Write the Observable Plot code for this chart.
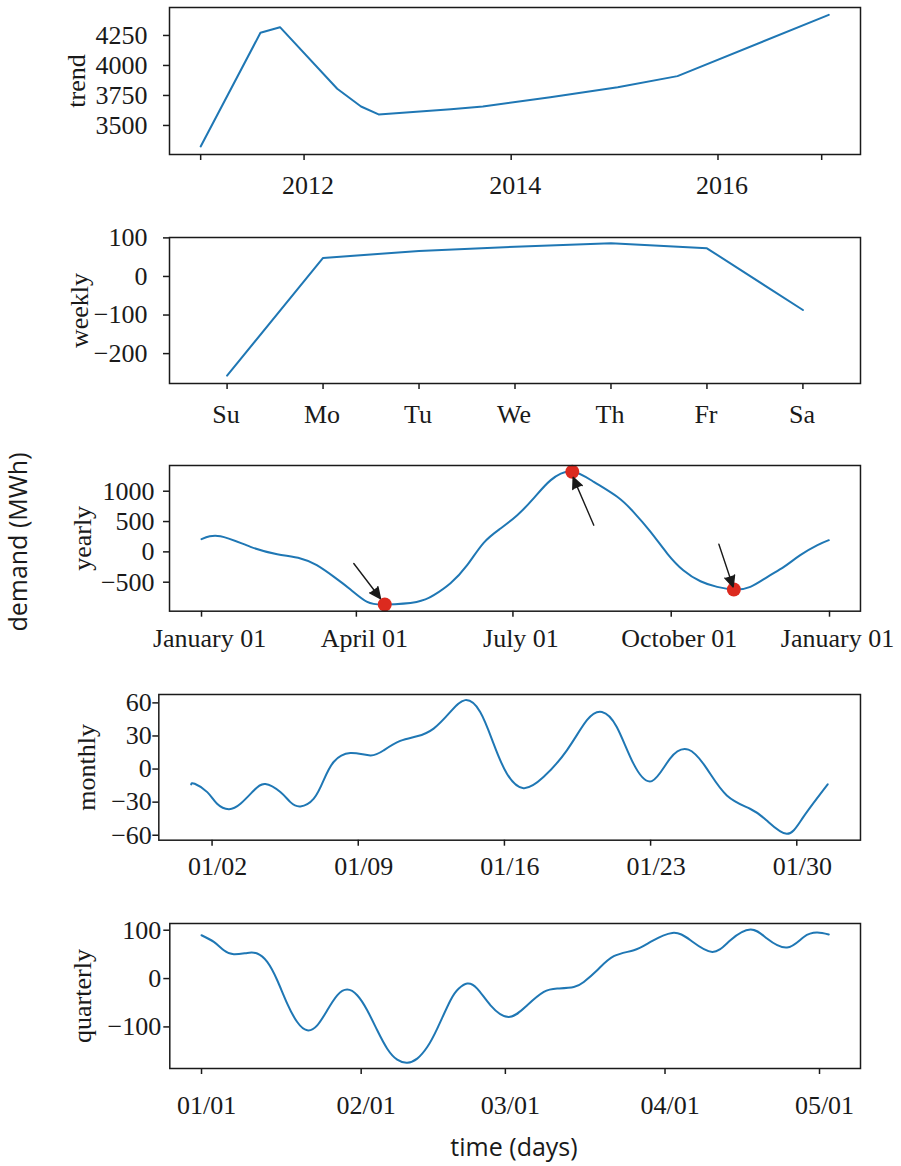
<!DOCTYPE html>
<html>
<head>
<meta charset="utf-8">
<script src="https://cdn.jsdelivr.net/npm/d3@7"></script>
<script src="https://cdn.jsdelivr.net/npm/@observablehq/plot@0.6"></script>
<style>
  html, body { margin: 0; padding: 0; background: white; overflow: hidden; }
  #wrap { position: relative; width: 901px; height: 1166px; background: white; }
  .panel { position: absolute; left: 0; }
  .sans { position: absolute; font-family: "Open Sans", sans-serif; font-size: 25px; color: #1a1a1a; white-space: nowrap; text-align: center; }
</style>
</head>
<body>
<div id="wrap">
  <div class="panel" id="p1"></div>
  <div class="panel" id="p2"></div>
  <div class="panel" id="p3"></div>
  <div class="panel" id="p4"></div>
  <div class="panel" id="p5"></div>
  <div class="sans" id="ylab" style="left:-78px; top:528px; width:190px; height:28px; line-height:28px; transform: rotate(-90deg);">demand (MWh)</div>
  <div class="sans" id="xlab" style="left:414px; top:1134px; width:200px; line-height:25px;">time (days)</div>
</div>
<script>
// ---------- data ----------
// trend
const trendDates = ["2011-01-01","2011-07-31","2011-10-08","2012-04-27","2012-07-20","2012-09-20","2013-06-02","2013-09-23","2014-05-19","2015-01-12","2015-08-11","2017-01-26"];
const trendValues = [3325, 4272, 4319, 3806, 3658, 3592, 3636, 3658, 3736, 3819, 3911, 4422];
const trendTicks = ["2011-01-01","2012-01-01","2014-01-01","2016-01-01","2017-01-01"];
const trendTickLabels = ["", "2012", "2014", "2016", ""];
const trendYTicks = [3500, 3750, 4000, 4250];

// weekly
const weekDays = ["Su","Mo","Tu","We","Th","Fr","Sa"];
const weeklyValues = [-257, 48, 66, 77, 86, 73, -87];
const weeklyYTicks = [-200, -100, 0, 100];

// yearly (day of year offsets from Jan 01)
const yearlyDays = [0, 11, 28.5, 44, 57.5, 67, 77, 86.6, 96.3, 107, 125, 135, 144.7, 154.4, 164, 173.8, 183.5, 193, 203, 215, 228, 241.6, 251, 261, 270.7, 280, 290, 299.7, 309.5, 319, 329, 338.5, 348, 358, 364.6];
const yearlyValues = [209, 259, 83, -38, -109, -219, -412, -620, -825, -868, -825, -714, -516, -219, 149, 386, 605, 881, 1183, 1325, 1155, 908, 660, 330, -27, -302, -484, -577, -620, -577, -412, -247, -54, 111, 193];
const yearlyTicks = ["2017-01-01","2017-04-01","2017-07-01","2017-10-01","2018-01-01"];
const yearlyYTicks = [-500, 0, 500, 1000];
const extremaDays = [106.5, 215.5, 309.4];
const extremaValues = [-868, 1320, -620];
const arrowFromDays = [88.5, 228, 300.7];
const arrowFromValues = [-191, 440, 127];
const arrowToDays = [104, 216, 309];
const arrowToValues = [-769, 1228, -578];

// monthly (day offsets from Jan 01)
const monthlyDays = [0, 0.17, 0.77, 1.24, 1.8, 2.36, 3.0, 3.55, 4.27, 4.75, 5.23, 5.87, 6.34, 6.82, 7.62, 8.58, 9.22, 10.01, 10.81, 11.61, 12.41, 13.12, 13.84, 14.48, 15.12, 15.91, 16.87, 17.99, 18.95, 19.67, 20.38, 21.18, 22.06, 22.93, 23.81, 24.69, 25.65, 26.76, 27.56, 28.52, 29.31, 30.48];
const monthlyValues = [-13.9, -13.3, -20.9, -31.5, -36.4, -31.5, -19.4, -13.6, -20.9, -30, -33.9, -26.9, -10.3, 6.4, 14.5, 12.4, 17, 25.5, 29.7, 36.7, 51.8, 62.5, 51.8, 23, -4.2, -17.3, -7.3, 17, 44.3, 51.8, 38.2, 4.9, -10.9, 9.5, 17.6, 0.4, -23.9, -36, -46.6, -58.7, -43.6, -13.9];
const monthlyTicks = ["2017-01-02","2017-01-09","2017-01-16","2017-01-23","2017-01-30"];
const monthlyYTicks = [-60, -30, 0, 30, 60];

// quarterly (day offsets from Jan 01)
const quarterlyDays = [0, 2.39, 4.33, 6.27, 8.87, 10.82, 12.76, 14.7, 16.64, 18.58, 20.52, 22.47, 24.41, 26.35, 28.29, 30.23, 32.17, 34.12, 36.06, 38, 39.94, 41.88, 43.83, 45.77, 48.35, 49.96, 51.59, 53.53, 56.12, 59.67, 63.24, 66.47, 69.07, 72.29, 74.23, 76.83, 80.06, 83.94, 87.18, 91.4, 94.95, 99.17, 102.7, 106.6, 109.8, 113.7, 116.95, 119.55, 121.8];
const quarterlyValues = [89.6, 75.8, 58.6, 50.3, 53, 51.8, 34.4, -3.5, -51.8, -89.9, -107, -96.7, -65.6, -34.6, -22.8, -34.6, -65.6, -107, -145, -167.7, -174, -165.6, -141.6, -103.5, -45, -20.7, -10.4, -20.7, -55.3, -79.5, -55.3, -27.7, -20.7, -17.4, -7, 17.2, 46.2, 58.6, 75.8, 94.4, 79.3, 55.1, 79.3, 101.4, 82.8, 64.2, 86.1, 95.2, 91.1];
const quarterlyTicks = ["2017-01-01","2017-02-01","2017-03-01","2017-04-01","2017-05-01"];
const quarterlyYTicks = [-100, 0, 100];

// ---------- helpers ----------
const T0 = Date.UTC(2017, 0, 1);
const dayToDate = d => new Date(T0 + d * 86400000);
const iso = s => new Date(s + "T00:00:00Z");
const minus = d => (d < 0 ? "\u2212" + Math.abs(d) : String(d));
const BLUE = "#1f77b4";
const INK = "#1a1a1a";
const SERIF = "'Liberation Serif', 'Times New Roman', serif";
const FS = 26;

function panel(el, top, opts) {
  const {left, frameH, xScale, yScale, marks, xAxis, xShift, yAxis, label, labelDx} = opts;
  const mt = 15, mb = 60;
  const {tickPadding, ...xRest} = xAxis;
  const chart = Plot.plot({
    width: 901,
    height: mt + frameH + mb,
    marginLeft: left,
    marginRight: 41,
    marginTop: mt,
    marginBottom: mb,
    style: {fontFamily: SERIF, fontSize: FS + "px", color: INK, background: "white", overflow: "visible"},
    x: xScale,
    y: yScale,
    marks: [
      ...marks,
      Plot.frame({stroke: INK, strokeWidth: 1.5}),
      // x tick lines
      Plot.axisX({...xRest, tickSize: 6, strokeWidth: 1.5, tickFormat: () => "", label: null}),
      // x tick labels
      Plot.axisX({...xRest, tickSize: 0, tickPadding: 6 + tickPadding, dx: xShift, fontSize: FS, fontFamily: SERIF, fill: INK, label: null}),
      Plot.axisY({tickSize: 6, strokeWidth: 1.5, fontSize: FS, fontFamily: SERIF, fill: INK, label: null, tickFormat: minus, ...yAxis}),
      Plot.text([label], {frameAnchor: "left", text: d => d, rotate: -90, dx: labelDx, lineAnchor: "top", textAnchor: "middle", fontSize: FS, fontFamily: SERIF, fill: INK})
    ]
  });
  d3.select(chart).selectAll("g[aria-label='arrow'] path").attr("fill", INK);
  const host = document.getElementById(el);
  host.style.top = top + "px";
  host.appendChild(chart);
}

// ---------- panel 1: trend ----------
const trendData = trendDates.map((d, i) => ({x: iso(d), y: trendValues[i]}));
const trendLabelMap = new Map(trendTicks.map((t, i) => [+iso(t), trendTickLabels[i]]));
panel("p1", -8, {
  left: 169, frameH: 147,
  xScale: {type: "utc", domain: [iso("2010-09-13"), iso("2017-05-18")]},
  yScale: {domain: [3258, 4483]},
  marks: [Plot.line(trendData, {x: "x", y: "y", stroke: BLUE, strokeWidth: 2})],
  xAxis: {ticks: trendTicks.map(iso), tickFormat: d => trendLabelMap.get(+d) ?? "", tickPadding: 15},
  xShift: 4,
  yAxis: {ticks: trendYTicks, tickPadding: 16},
  label: "trend", labelDx: -103
});

// ---------- panel 2: weekly ----------
const weeklyData = weeklyValues.map((v, i) => ({x: i, y: v}));
panel("p2", 221.7, {
  left: 169, frameH: 146,
  xScale: {domain: [-0.6, 6.6]},
  yScale: {domain: [-277.5, 101]},
  marks: [Plot.line(weeklyData, {x: "x", y: "y", stroke: BLUE, strokeWidth: 2})],
  xAxis: {ticks: weekDays.map((d, i) => i), tickFormat: i => weekDays[i], tickPadding: 15},
  xShift: -1,
  yAxis: {ticks: weeklyYTicks, tickPadding: 16},
  label: "weekly", labelDx: -100
});

// ---------- panel 3: yearly ----------
const yearlyData = yearlyDays.map((d, i) => ({x: dayToDate(d), y: yearlyValues[i]}));
const extremaData = extremaDays.map((d, i) => ({x: dayToDate(d), y: extremaValues[i]}));
const arrowData = arrowFromDays.map((d, i) => ({x1: dayToDate(d), y1: arrowFromValues[i], x2: dayToDate(arrowToDays[i]), y2: arrowToValues[i]}));
panel("p3", 450, {
  left: 169, frameH: 145.7,
  xScale: {type: "utc", domain: [dayToDate(-18.6), dayToDate(383)]},
  yScale: {domain: [-978, 1424]},
  marks: [
    Plot.line(yearlyData, {x: "x", y: "y", stroke: BLUE, strokeWidth: 2, curve: "natural"}),
    Plot.dot(extremaData, {x: "x", y: "y", r: 7, fill: "#dc2a1f", stroke: "none"}),
    Plot.arrow(arrowData, {x1: "x1", y1: "y1", x2: "x2", y2: "y2", stroke: INK, strokeWidth: 1.4, headLength: 13, headAngle: 50})
  ],
  xAxis: {ticks: yearlyTicks.map(iso), tickFormat: d3.utcFormat("%B %d"), tickPadding: 11.5},
  xShift: 8,
  yAxis: {ticks: yearlyYTicks, tickPadding: 9},
  label: "yearly", labelDx: -96.5
});

// ---------- panel 4: monthly ----------
const monthlyData = monthlyDays.map((d, i) => ({x: dayToDate(d), y: monthlyValues[i]}));
panel("p4", 679.3, {
  left: 158.3, frameH: 145.7,
  xScale: {type: "utc", domain: [dayToDate(-1.55), dayToDate(32.05)]},
  yScale: {domain: [-64.5, 67.6]},
  marks: [Plot.line(monthlyData, {x: "x", y: "y", stroke: BLUE, strokeWidth: 2, curve: "natural"})],
  xAxis: {ticks: monthlyTicks.map(iso), tickFormat: d3.utcFormat("%m/%d"), tickPadding: 10.5},
  xShift: 5.5,
  yAxis: {ticks: monthlyYTicks, tickPadding: 1},
  label: "monthly", labelDx: -82.5
});

// ---------- panel 5: quarterly ----------
const quarterlyData = quarterlyDays.map((d, i) => ({x: dayToDate(d), y: quarterlyValues[i]}));
panel("p5", 908.3, {
  left: 169.3, frameH: 145,
  xScale: {type: "utc", domain: [dayToDate(-6.16), dayToDate(127.96)]},
  yScale: {domain: [-186, 113.9]},
  marks: [Plot.line(quarterlyData, {x: "x", y: "y", stroke: BLUE, strokeWidth: 2, curve: "natural"})],
  xAxis: {ticks: quarterlyTicks.map(iso), tickFormat: d3.utcFormat("%m/%d"), tickPadding: 21},
  xShift: 5,
  yAxis: {ticks: quarterlyYTicks, tickPadding: 2.6},
  label: "quarterly", labelDx: -97
});
</script>
</body>
</html>
